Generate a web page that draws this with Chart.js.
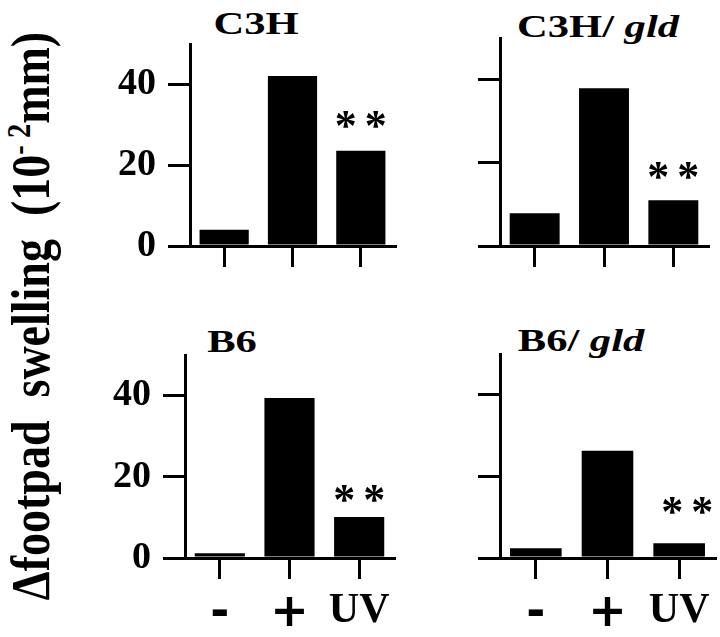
<!DOCTYPE html>
<html>
<head>
<meta charset="utf-8">
<script src="https://cdn.jsdelivr.net/npm/chart.js@4.4.0/dist/chart.umd.min.js"></script>
<style>
  body { margin: 0; background: #fff; }
  #page { position: relative; width: 720px; height: 637px; overflow: hidden;
          font-family: "Liberation Serif", "Times New Roman", serif; font-weight: bold; color: #000; }
  canvas { position: absolute; }
  .title { position: absolute; font-size: 32px; line-height: 1; white-space: nowrap;
           transform: translateX(-50%) scaleX(1.33); }
  #ytitle { position: absolute; left: 31px; top: 316px; font-size: 46px; line-height: 1; white-space: pre;
            transform: translate(-50%, -50%) rotate(-90deg) scale(1, 1.18); }
  #ytitle sup { font-size: 0.62em; vertical-align: 0.55em; line-height: 0; }
</style>
</head>
<body>
<div id="page">
  <div id="ytitle">Δfootpad  swelling  (10<sup>- 2</sup>mm)</div>
  <div class="title" style="left:256px; top:7px;">C3H</div>
  <div class="title" style="left:598px; top:10px;">C3H/ <i>gld</i></div>
  <div class="title" style="left:232px; top:325px;">B6</div>
  <div class="title" style="left:581px; top:324px;">B6/ <i>gld</i></div>
  <canvas id="c3h"></canvas>
  <canvas id="c3hGld"></canvas>
  <canvas id="b6"></canvas>
  <canvas id="b6Gld"></canvas>
</div>
<script>
// categories and values (10^-2 mm)
var categories = ['-', '+', 'UV'];
var c3hValues = [4, 42.1, 23.6];
var c3hGldValues = [7.9, 37.9, 11];
var b6Values = [1.2, 39.4, 10.1];
var b6GldValues = [2.4, 26.3, 3.6];
var yTicks = [0, 20, 40];
var yMax = 50;
// "* *" drawn over these bars
var marked = [false, false, true];

var FONT = '"Liberation Serif", "Times New Roman", serif';
var SIGN_FONT = '"DejaVu Sans", sans-serif';

// box = canvas [left, top, width, height], area = chart area [left, top, right, bottom] in page px
var panels = [
    { id: 'c3h', values: c3hValues, box: [90, 0, 320, 300], area: [190, 44, 395, 246], yLabels: true, xLabels: false, starLift: 32, starDx: 0 },
    { id: 'c3hGld', values: c3hGldValues, box: [420, 0, 300, 300], area: [500, 38, 708, 246], yLabels: false, xLabels: false, starLift: 30, starDx: 0 },
    { id: 'b6', values: b6Values, box: [90, 310, 320, 327], area: [185, 355, 394, 558], yLabels: true, xLabels: true, starLift: 24, starDx: 0 },
    { id: 'b6Gld', values: b6GldValues, box: [420, 310, 300, 327], area: [500, 354, 715, 558], yLabels: false, xLabels: true, starLift: 38, starDx: 8 }
];

var starPlugin = {
    id: 'stars',
    afterDatasetsDraw: function(chart, args, opts) {
        var meta = chart.getDatasetMeta(0);
        var ctx = chart.ctx;
        ctx.save();
        ctx.fillStyle = '#000';
        ctx.font = 'bold 44px ' + FONT;
        ctx.textAlign = 'center';
        ctx.textBaseline = 'alphabetic';
        meta.data.forEach(function(bar, i) {
            if (!marked[i]) return;
            var cy = bar.y - opts.lift;
            ctx.fillText('*', bar.x + opts.dx - 15, cy + 21);
            ctx.fillText('*', bar.x + opts.dx + 15, cy + 21);
        });
        ctx.restore();
    }
};

function xTickFont(c) {
    var label = c.tick ? c.tick.label : '';
    if (label === 'UV') return { family: FONT, size: 42, weight: 'bold' };
    return { family: SIGN_FONT, size: 46, weight: 'bold' };
}

panels.forEach(function(p) {
    var canvas = document.getElementById(p.id);
    canvas.width = p.box[2];
    canvas.height = p.box[3];
    canvas.style.left = p.box[0] + 'px';
    canvas.style.top = p.box[1] + 'px';

    var yWidth = p.area[0] - p.box[0];
    var xHeight = p.box[1] + p.box[3] - p.area[3];
    var padTop = p.area[1] - p.box[1];
    var padRight = p.box[0] + p.box[2] - p.area[2];

    new Chart(canvas, {
        type: 'bar',
        data: {
            labels: categories,
            datasets: [{
                data: p.values,
                backgroundColor: '#000',
                borderWidth: 0,
                barPercentage: 0.72,
                categoryPercentage: 1
            }]
        },
        options: {
            responsive: false,
            animation: false,
            layout: { padding: { left: 0, top: padTop, right: padRight, bottom: 0 } },
            plugins: {
                legend: { display: false },
                tooltip: { enabled: false },
                stars: { lift: p.starLift, dx: p.starDx }
            },
            scales: {
                x: {
                    grid: { drawOnChartArea: false, drawTicks: true, tickLength: 21, lineWidth: 3, color: '#000', offset: false },
                    border: { display: true, width: 3, color: '#000' },
                    ticks: { display: p.xLabels, color: '#000', padding: 7, maxRotation: 0, font: xTickFont },
                    afterFit: function(s) { s.height = xHeight; }
                },
                y: {
                    min: 0,
                    max: yMax,
                    afterBuildTicks: function(s) { s.ticks = yTicks.map(function(v) { return { value: v }; }); },
                    grid: { drawOnChartArea: false, drawTicks: true, tickLength: 22, lineWidth: 3, color: '#000' },
                    border: { display: true, width: 3, color: '#000' },
                    ticks: { display: p.yLabels, color: '#000', padding: 12,
                             font: { family: FONT, size: 38, weight: 'bold' } },
                    afterFit: function(s) { s.width = yWidth; }
                }
            }
        },
        plugins: [starPlugin]
    });
});
</script>
</body>
</html>
